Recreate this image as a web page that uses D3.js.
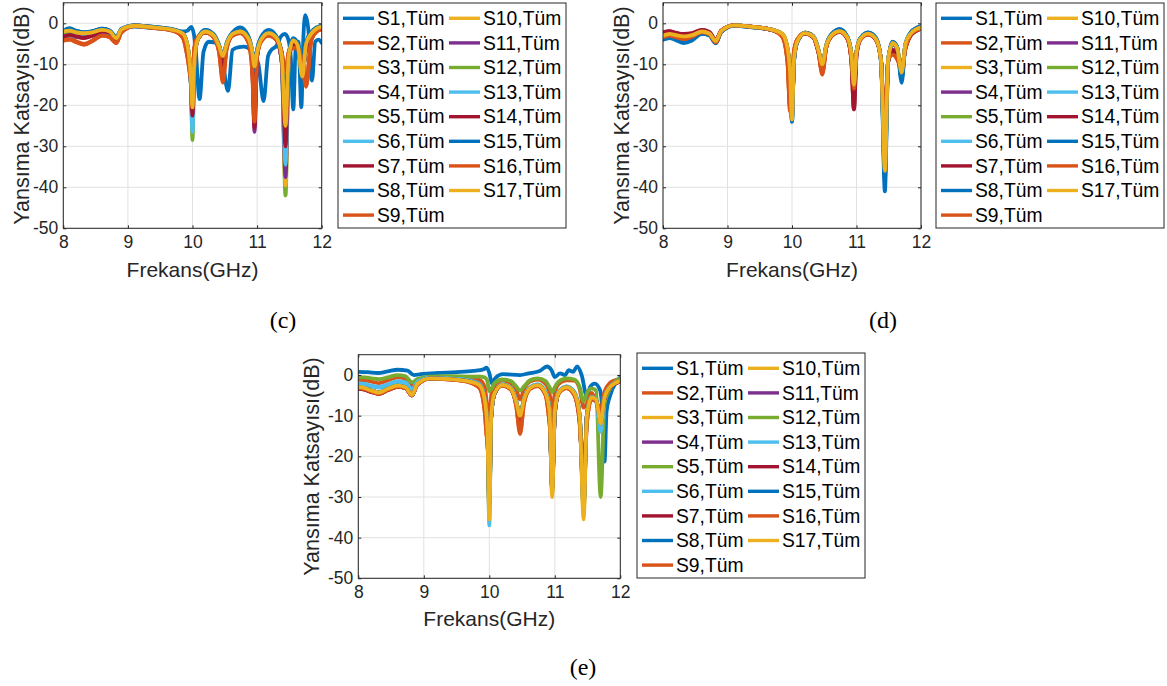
<!DOCTYPE html>
<html><head><meta charset="utf-8">
<script src="https://cdn.jsdelivr.net/npm/d3@7"></script>
<style>body{margin:0;background:#fff} svg{display:block}</style>
</head><body><svg id="fig" width="1167" height="686"></svg>
<script>
// ---------------- DATA ----------------
const labels = ["S1,Tüm","S2,Tüm","S3,Tüm","S4,Tüm","S5,Tüm","S6,Tüm","S7,Tüm","S8,Tüm","S9,Tüm",
  "S10,Tüm","S11,Tüm","S12,Tüm","S13,Tüm","S14,Tüm","S15,Tüm","S16,Tüm","S17,Tüm"];
const palette = ["#0072BD","#D95319","#EDB120","#7E2F8E","#77AC30","#4DBEEE","#A2142F"];
const xTicks = [8, 9, 10, 11, 12];
const yTicks = [-50, -40, -30, -20, -10, 0];
const panelTags = ["(c)", "(d)", "(e)"];

// shared frequency grid (GHz)
const freq = [8.0,8.1,8.2,8.32,8.45,8.6,8.72,8.82,8.9,9.1,9.4,9.7,9.85,9.93,9.97,10.0,10.03,10.08,10.2,10.33,
  10.41,10.47,10.53,10.62,10.74,10.86,10.92,10.96,11.0,11.06,11.18,11.3,11.38,11.44,11.49,11.56,11.63,11.7,11.76,11.84,11.92,12.0];

// panel (c): S1 has its own frequency grid
const freqC_S1 = [8.0,8.1,8.2,8.32,8.45,8.6,8.72,8.82,8.9,9.1,9.4,9.7,9.85,9.92,9.98,10.04,10.11,10.17,10.25,10.35,
  10.45,10.55,10.62,10.72,10.8,10.9,11.02,11.1,11.17,11.22,11.3,11.37,11.43,11.48,11.52,11.56,11.6,11.64,11.685,11.715,
  11.745,11.79,11.85,11.9,11.95,12.0];
const dbC = [
  [-1.8,-1.2,-1.8,-2.2,-2.0,-1.3,-1.8,-3.3,-1.5,-0.8,-1.2,-1.6,-2.0,-1.8,-0.9,-4.5,-18.5,-7,-4.5,-4.7,-7.5,-16.5,-6.5,-5.8,-5.7,-6.5,-10,-19,-8,-6.5,-5.5,-3.2,-2.6,-3.8,-8,-21,-5,-4.5,-20.5,-4,2,-1,-14,-4.5,-4,-4.8],
  [-4.0,-3.8,-4.4,-5.0,-4.2,-2.9,-3.3,-4.7,-2.1,-0.7,-1.1,-1.8,-3.4,-8,-13,-14,-6,-3.5,-2.2,-3.4,-6.5,-12,-6,-2.9,-2.3,-4.2,-9,-18,-8,-4.4,-2.8,-4,-7,-14,-7,-5.5,-6,-9,-14,-4,-2,-1.4],
  [-2.4,-2.1,-2.6,-2.9,-2.5,-1.8,-2.2,-3.9,-1.7,-0.6,-1.0,-1.6,-2.7,-6,-12,-21,-9,-4,-2.0,-3,-5.5,-8.5,-5,-2.6,-2.0,-3.6,-7,-14,-7,-4,-2.5,-3.6,-8.5,-24,-8,-4.3,-5.6,-12,-5,-2.5,-1.3,-0.8],
  [-3.0,-2.7,-3.1,-3.4,-2.9,-2.0,-2.4,-4.1,-1.8,-0.6,-1.0,-1.7,-2.9,-7,-13,-22,-9,-4,-2.1,-3.1,-6,-9.5,-5.5,-2.7,-2.1,-3.8,-8,-20,-7.5,-4.1,-2.6,-3.8,-9,-26,-8.5,-4.5,-5.8,-12,-5.2,-2.6,-1.4,-0.9],
  [-2.8,-2.6,-3.0,-3.3,-2.8,-1.9,-2.3,-4.0,-1.7,-0.6,-1.0,-1.7,-2.8,-7,-13,-24,-9,-4,-2.1,-3.1,-5.8,-9,-5.3,-2.7,-2.1,-3.7,-7.5,-16,-7.5,-4.1,-2.6,-3.7,-9,-42,-9,-4.4,-5.7,-12,-5.2,-2.6,-1.4,-0.9],
  [-3.1,-2.9,-3.2,-3.3,-2.9,-2.0,-2.4,-4.0,-1.8,-0.6,-1.0,-1.7,-2.8,-7,-13,-23,-9,-4,-2.1,-3.1,-5.8,-9,-5.3,-2.7,-2.1,-3.7,-7.5,-17,-7.5,-4.1,-2.6,-3.7,-9,-30,-9,-4.4,-5.7,-12.5,-5.2,-2.6,-1.4,-0.9],
  [-3.3,-2.9,-3.3,-3.6,-3.0,-2.0,-2.4,-4.2,-1.8,-0.6,-1.0,-1.7,-2.9,-7,-13,-21,-9,-4,-2.2,-3.2,-6,-9.5,-5.5,-2.8,-2.2,-3.9,-8,-22,-8,-4.2,-2.8,-4,-9,-27,-9,-4.8,-6,-12,-5.8,-2.9,-1.5,-1.0],
  [-1.9,-1.6,-2.0,-2.3,-2.0,-1.4,-1.9,-3.5,-1.4,-0.5,-0.9,-1.5,-2.4,-6,-12,-19,-8.5,-3.8,-1.7,-2.8,-5.3,-8,-4.8,-2.3,-1.4,-3.2,-6.5,-12,-6.5,-3.6,-1.9,-3.3,-7.5,-20,-7.5,-3.8,-5.2,-11.5,-4.7,-2.2,-1.1,-0.7],
  [-4.2,-4.0,-4.6,-5.2,-4.3,-3.0,-3.4,-4.8,-2.2,-0.7,-1.1,-1.8,-3.5,-9,-13,-15,-6,-3.5,-2.2,-3.5,-7,-13.5,-6,-3,-2.4,-4.4,-10,-22,-8,-4.5,-3,-4,-7,-13,-7,-6,-6,-10,-15,-4,-2,-1.5],
  [-2.3,-2.0,-2.4,-2.7,-2.4,-1.7,-2.1,-3.7,-1.6,-0.6,-1.0,-1.6,-2.6,-6,-12,-22,-9,-4,-2.0,-3,-5.5,-8.5,-5,-2.6,-2.0,-3.5,-7,-13,-7,-4,-2.4,-3.5,-8,-39.5,-8,-4.2,-5.5,-12,-5,-2.5,-1.3,-0.8],
  [-3.0,-2.7,-3.1,-3.4,-2.9,-2.0,-2.4,-4.1,-1.8,-0.6,-1.0,-1.7,-2.9,-7,-13,-24,-9,-4,-2.1,-3.1,-6,-9.5,-5.5,-2.7,-2.1,-3.8,-8,-26.5,-8,-4.1,-2.6,-3.8,-9,-37.5,-8.5,-4.5,-5.8,-12,-5.2,-2.6,-1.4,-0.9],
  [-2.7,-2.5,-2.9,-3.2,-2.7,-1.9,-2.3,-3.9,-1.7,-0.6,-1.0,-1.6,-2.8,-7,-13,-28.5,-9.5,-4,-2.1,-3.1,-5.8,-9,-5.3,-2.7,-2.1,-3.7,-7.5,-18,-7.5,-4.1,-2.6,-3.7,-9,-28,-9,-4.4,-5.7,-12,-5.2,-2.6,-1.4,-0.9],
  [-3.1,-2.9,-3.2,-3.2,-2.9,-2.0,-2.4,-4.0,-1.8,-0.6,-1.0,-1.7,-2.8,-7,-13,-26.5,-9,-4,-2.1,-3.1,-5.8,-9,-5.3,-2.7,-2.1,-3.7,-7.5,-20,-7.5,-4.1,-2.6,-3.7,-9,-34.5,-9,-4.4,-5.7,-12.5,-5.2,-2.6,-1.4,-0.9],
  [-3.2,-2.8,-3.2,-3.5,-3.0,-2.0,-2.3,-4.2,-1.8,-0.6,-1.0,-1.7,-3,-7,-13,-22.5,-9,-4,-2.2,-3.2,-6,-10,-5.5,-2.8,-2.2,-4,-8,-25.5,-8,-4.2,-2.8,-4,-9,-30,-9,-5,-6,-12,-6,-3,-1.5,-1.0],
  [-1.8,-1.5,-1.9,-2.2,-1.9,-1.3,-1.8,-3.4,-1.3,-0.5,-0.9,-1.5,-2.4,-6,-12,-19,-8.5,-3.7,-1.6,-2.7,-5.2,-8,-4.7,-2.2,-1.0,-3.0,-6.5,-11.5,-6.5,-3.4,-1.6,-3.2,-7.5,-20,-7.5,-3.6,-5,-11.5,-4.6,-2.1,-1.0,-0.6],
  [-4.2,-4.0,-4.6,-5.2,-4.3,-3.0,-3.4,-4.8,-2.2,-0.7,-1.1,-1.8,-3.5,-9,-13,-12,-6,-3.5,-2.2,-3.5,-7,-14.5,-6,-3,-2.4,-4.5,-11,-24,-8,-4.5,-3,-4,-7,-12,-7,-6,-6,-10,-15.5,-4,-2,-1.5],
  [-2.0,-1.8,-2.2,-2.4,-2.2,-1.6,-2.0,-3.6,-1.5,-0.6,-1.0,-1.6,-2.5,-6,-12,-20.5,-9,-4,-2.0,-3,-5.5,-8,-5,-2.6,-2.0,-3.5,-6.5,-10.5,-7,-4,-2.4,-3.5,-8,-25,-8,-4.2,-5.5,-13,-5,-2.5,-1.3,-0.8]
];

// panel (d)
const dbD = [
  [-3.8,-3.4,-3.9,-4.6,-4.0,-2.5,-2.9,-4.8,-2.1,-0.6,-1.0,-1.7,-2.8,-6.5,-12.5,-24,-9.5,-4.6,-2.3,-3.2,-6.5,-10.5,-5.5,-2.6,-1.5,-3.4,-7.5,-15,-7,-3.7,-2.3,-3.6,-9,-38,-9.5,-4.6,-5.8,-13,-5.1,-2.3,-1.3,-0.8],
  [-3.4,-3.0,-3.4,-3.8,-3.3,-2.2,-2.7,-4.7,-2.0,-0.5,-0.9,-1.7,-3.2,-9,-20,-18,-7,-4,-2.4,-3.3,-7,-12,-6,-2.9,-2.0,-3.7,-8.5,-16,-7,-3.9,-2.7,-3.9,-9,-30,-9,-7,-8.5,-11,-6,-2.8,-1.8,-1.2],
  [-3.1,-2.7,-3.0,-3.3,-3.0,-2.0,-2.5,-4.4,-1.9,-0.5,-0.9,-1.6,-2.6,-6,-12,-23,-9,-4.5,-2.4,-3.2,-6.5,-10,-5.5,-2.8,-1.9,-3.5,-7.5,-15.5,-7,-3.8,-2.5,-3.8,-9,-35,-9,-4.8,-6,-12,-5,-2.5,-1.5,-1.0],
  [-2.8,-2.4,-2.8,-3.1,-2.8,-1.9,-2.4,-4.3,-1.9,-0.5,-0.9,-1.6,-2.7,-6.5,-12.5,-23,-9,-4.5,-2.4,-3.3,-6.8,-10.5,-5.6,-2.8,-1.9,-3.6,-8,-18,-7.2,-3.8,-2.5,-3.8,-9,-33,-9,-5,-6.5,-11.5,-5.2,-2.6,-1.6,-1.1],
  [-3.2,-2.8,-3.1,-3.4,-3.1,-2.1,-2.6,-4.4,-1.9,-0.5,-0.9,-1.6,-2.6,-6,-12,-23,-9,-4.5,-2.4,-3.2,-6.5,-10.5,-5.5,-2.8,-1.9,-3.5,-7.5,-16,-7,-3.8,-2.5,-3.8,-9,-34,-9,-4.8,-6,-12.5,-5,-2.5,-1.5,-1.0],
  [-3.3,-2.9,-3.3,-3.6,-3.2,-2.1,-2.6,-4.5,-2.0,-0.5,-0.9,-1.6,-2.7,-6.5,-12.5,-23,-9,-4.5,-2.4,-3.2,-6.5,-10.5,-5.5,-2.7,-1.8,-3.5,-7.5,-16,-7,-3.7,-2.4,-3.7,-9.5,-33,-9,-4.7,-6,-13,-5,-2.4,-1.4,-0.9],
  [-2.3,-2.0,-2.4,-2.7,-2.5,-1.7,-2.2,-4.2,-1.8,-0.5,-0.9,-1.7,-2.8,-7,-13,-22.5,-9,-4.6,-2.5,-3.4,-7,-11,-5.8,-3.0,-2.1,-3.8,-9,-21,-8,-4.0,-2.7,-4.0,-9,-32,-9.5,-6.5,-7.5,-11,-5.8,-2.9,-1.8,-1.2],
  [-3.6,-3.2,-3.7,-4.3,-3.8,-2.4,-2.8,-4.7,-2.0,-0.5,-0.9,-1.6,-2.7,-6.5,-12.5,-23.5,-9.2,-4.5,-2.3,-3.1,-6.4,-10.3,-5.4,-2.6,-1.5,-3.4,-7.4,-15,-6.9,-3.7,-2.3,-3.6,-9,-37,-9.3,-4.6,-5.8,-13.5,-5.1,-2.3,-1.3,-0.8],
  [-3.5,-3.1,-3.5,-3.9,-3.4,-2.3,-2.8,-4.8,-2.1,-0.5,-0.9,-1.7,-3.3,-9.5,-21,-17,-7,-4,-2.4,-3.4,-7.2,-12.5,-6,-2.9,-2.0,-3.8,-8.8,-16.5,-7,-3.9,-2.7,-3.9,-9,-28,-9,-7.5,-8.8,-11,-6.2,-2.9,-1.9,-1.3],
  [-3.0,-2.6,-3.0,-3.3,-3.0,-2.0,-2.5,-4.3,-1.9,-0.5,-0.9,-1.6,-2.6,-6,-12,-23.2,-9,-4.5,-2.4,-3.2,-6.5,-10,-5.5,-2.8,-1.9,-3.5,-7.5,-15.2,-7,-3.8,-2.5,-3.8,-9,-35.5,-9,-4.8,-6,-12,-5,-2.5,-1.5,-1.0],
  [-2.9,-2.5,-2.9,-3.2,-2.9,-1.9,-2.4,-4.3,-1.9,-0.5,-0.9,-1.6,-2.7,-6.5,-12.5,-22.8,-9,-4.5,-2.4,-3.3,-6.8,-10.5,-5.6,-2.8,-1.9,-3.6,-8,-17.5,-7.2,-3.8,-2.5,-3.8,-9,-33.5,-9,-5,-6.4,-11.5,-5.2,-2.6,-1.6,-1.1],
  [-3.2,-2.8,-3.1,-3.4,-3.1,-2.1,-2.6,-4.4,-1.9,-0.5,-0.9,-1.6,-2.6,-6,-12,-23,-9,-4.5,-2.4,-3.2,-6.5,-10.4,-5.5,-2.8,-1.9,-3.5,-7.5,-15.8,-7,-3.8,-2.5,-3.8,-9,-34,-9,-4.8,-6,-12.4,-5,-2.5,-1.5,-1.0],
  [-3.3,-2.9,-3.3,-3.6,-3.2,-2.1,-2.6,-4.5,-2.0,-0.5,-0.9,-1.6,-2.7,-6.5,-12.5,-23,-9,-4.5,-2.4,-3.2,-6.5,-10.5,-5.5,-2.7,-1.8,-3.5,-7.5,-16,-7,-3.7,-2.4,-3.7,-9.5,-33,-9,-4.7,-6,-13,-5,-2.4,-1.4,-0.9],
  [-2.2,-1.9,-2.3,-2.6,-2.4,-1.6,-2.1,-4.1,-1.8,-0.5,-0.9,-1.7,-2.8,-7,-13,-22,-9,-4.6,-2.5,-3.4,-7,-11,-5.8,-3.0,-2.1,-3.8,-9,-21,-8,-4.0,-2.7,-4.0,-9,-30,-9.5,-7,-8,-11,-6,-3,-1.9,-1.3],
  [-4.0,-3.6,-4.1,-4.8,-4.2,-2.6,-3.0,-4.9,-2.2,-0.6,-1.0,-1.7,-2.8,-6.5,-12.5,-24,-9.5,-4.6,-2.3,-3.2,-6.5,-10.5,-5.5,-2.5,-1.4,-3.3,-7.5,-15,-7,-3.6,-2.2,-3.5,-9,-41,-9.5,-4.5,-5.8,-14.5,-5.1,-2.2,-1.2,-0.7],
  [-3.4,-3.0,-3.4,-3.8,-3.3,-2.2,-2.7,-4.7,-2.0,-0.5,-0.9,-1.7,-3.3,-9.5,-21.5,-17,-7,-4,-2.4,-3.3,-7,-12,-6,-2.9,-2.0,-3.7,-8.5,-16,-7,-3.9,-2.7,-3.9,-9,-26,-9,-7.7,-8.5,-11,-6,-2.8,-1.8,-1.2],
  [-3.0,-2.6,-2.9,-3.2,-2.9,-2.0,-2.5,-4.3,-1.9,-0.5,-0.9,-1.6,-2.6,-6,-12,-23.5,-9,-4.5,-2.4,-3.2,-6.5,-10,-5.5,-2.8,-1.9,-3.5,-7.5,-15,-7,-3.8,-2.5,-3.8,-9,-36,-9,-4.8,-6,-12,-5,-2.5,-1.5,-1.0]
];

// panel (e): S1 has its own frequency grid
const freqE_S1 = [8.0,8.15,8.3,8.45,8.6,8.75,8.85,8.95,9.2,9.5,9.76,9.91,9.96,10.0,10.04,10.09,10.21,10.47,10.6,10.77,
  10.88,10.95,11.0,11.08,11.16,11.21,11.28,11.34,11.41,11.49,11.54,11.61,11.69,11.73,11.76,11.79,11.84,11.94,12.0];
const dbE = [
  [0.8,0.7,0.5,0.9,1.3,1.1,0.0,0.2,0.5,0.7,1.0,1.4,1.8,0.5,-2.1,-0.8,0.2,0.0,0.4,1.0,2.1,1.2,-0.5,0.4,0.0,1.2,0.8,2.1,0.0,-5.3,-2.9,-2.1,-3.7,-10,-21.3,-9,-5.3,-1.6,-0.5],
  [-1.2,-1.3,-1.6,-2.0,-1.3,-0.6,-0.9,-2.6,-1.4,-0.6,-0.6,-0.8,-1.2,-3,-8,-12,-5,-2.6,-1.4,-2.0,-3.5,-6,-3.5,-1.6,-1.1,-2.2,-4.5,-9,-4.5,-2.2,-1.3,-1.4,-3.5,-8,-7,-4.4,-6.3,-8.5,-4,-2,-1.3,-1.0],
  [-3.0,-3.1,-3.7,-4.2,-3.3,-2.5,-2.9,-4.8,-2.2,-0.8,-1.0,-1.6,-2.5,-6,-13,-30,-10,-4.5,-2.4,-3.3,-6.5,-10,-6,-3.2,-2.5,-4.5,-9,-25,-9,-4.3,-3.0,-4.5,-10,-30,-10,-5.5,-6,-12,-5.5,-3,-2,-1.4],
  [-3.3,-3.4,-4.0,-4.5,-3.6,-2.8,-3.1,-5.0,-2.3,-0.8,-1.0,-1.6,-2.6,-7,-14,-28,-10,-4.6,-2.5,-3.4,-6.8,-11,-6.2,-3.3,-2.6,-4.7,-10,-26,-9.5,-4.4,-3.1,-4.7,-11,-28,-10,-5.8,-6.2,-11,-5.6,-3.1,-2.1,-1.5],
  [-0.5,-0.6,-0.8,-1.0,-0.6,0.0,-0.3,-1.8,-1.0,-0.4,-0.3,-0.4,-0.4,-0.6,-1.5,-4,-3.5,-2,-1.1,-1.5,-2.8,-3.8,-2.8,-1.3,-0.8,-1.5,-3,-4.2,-3,-1.6,-0.8,-1.1,-3,-6.5,-4.5,-3.3,-3.8,-30,-7,-3.5,-1.6,-0.8],
  [-2.2,-2.4,-2.8,-3.1,-2.5,-1.7,-2.0,-3.8,-1.8,-0.7,-0.9,-1.4,-2.2,-6,-13,-33,-10,-4.4,-2.3,-3.2,-6.2,-10,-5.8,-3.0,-2.3,-4.2,-8.5,-27,-8.5,-4.1,-2.8,-4.2,-10,-30,-10,-5.4,-5.9,-13,-5.4,-2.9,-1.9,-1.4],
  [-3.4,-3.6,-4.2,-4.6,-3.7,-2.9,-3.2,-5.0,-2.3,-0.8,-1.0,-1.6,-2.7,-7,-14,-30,-10,-4.6,-2.5,-3.4,-6.8,-11,-6.2,-3.3,-2.6,-4.7,-10,-28,-9.5,-4.4,-3.1,-4.7,-11,-30,-10,-5.8,-6.2,-11.5,-5.6,-3.1,-2.1,-1.5],
  [-3.1,-3.2,-3.8,-4.3,-3.4,-2.6,-3.0,-4.9,-2.2,-0.8,-1.0,-1.6,-2.5,-6,-13,-32,-10,-4.5,-2.4,-3.3,-6.5,-10,-6,-3.2,-2.5,-4.5,-9,-28,-9,-4.3,-3.0,-4.5,-10,-32,-10,-5.5,-6,-12,-5.5,-3,-2,-1.4],
  [-3.3,-3.5,-4.1,-4.6,-3.7,-2.9,-3.2,-5.0,-2.4,-0.9,-1.1,-1.8,-3.2,-9,-16,-14,-7,-4,-2.6,-3.6,-7.5,-14,-7,-3.4,-2.7,-5,-12,-19,-8,-4.5,-3.2,-5,-12,-27,-12,-6,-6.5,-10,-5.5,-3,-2,-1.5],
  [-3.0,-3.2,-3.8,-4.3,-3.4,-2.6,-3.0,-4.9,-2.2,-0.8,-1.0,-1.6,-2.5,-6,-13,-34,-10,-4.5,-2.4,-3.3,-6.5,-10,-6,-3.2,-2.5,-4.5,-9,-29,-9,-4.3,-3.0,-4.5,-10,-34,-10,-5.5,-6,-12,-5.5,-3,-2,-1.5],
  [-3.3,-3.4,-4.0,-4.5,-3.6,-2.8,-3.1,-5.0,-2.3,-0.8,-1.0,-1.6,-2.6,-7,-14,-29,-10,-4.6,-2.5,-3.4,-6.8,-11,-6.2,-3.3,-2.6,-4.7,-10,-27,-9.5,-4.4,-3.1,-4.7,-11,-29,-10,-5.8,-6.2,-11,-5.6,-3.1,-2.1,-1.5],
  [-3.0,-3.2,-3.8,-4.3,-3.4,-2.6,-3.0,-4.9,-2.2,-0.8,-1.0,-1.6,-2.5,-6,-13,-33,-10,-4.5,-2.4,-3.3,-6.5,-10,-6,-3.2,-2.5,-4.5,-9,-29,-9,-4.3,-3.0,-4.5,-10,-33,-10,-5.5,-6,-12,-5.5,-3,-2,-1.4],
  [-2.0,-2.2,-2.6,-2.9,-2.3,-1.5,-1.8,-3.5,-1.7,-0.7,-0.9,-1.4,-2.2,-6,-13,-37,-10,-4.4,-2.3,-3.2,-6.2,-10,-5.8,-3.0,-2.3,-4.2,-8.5,-28,-8.5,-4.1,-2.8,-4.2,-10,-33,-10,-5.4,-6.5,-14,-5.4,-2.9,-1.9,-1.4],
  [-3.4,-3.6,-4.2,-4.6,-3.7,-2.9,-3.2,-5.0,-2.3,-0.8,-1.0,-1.6,-2.7,-7,-14,-31,-10,-4.6,-2.5,-3.4,-6.8,-11,-6.2,-3.3,-2.6,-4.7,-10,-28,-9.5,-4.4,-3.1,-4.7,-11,-31,-10,-5.8,-6.2,-11.5,-5.6,-3.1,-2.1,-1.5],
  [-3.1,-3.2,-3.8,-4.3,-3.4,-2.6,-3.0,-4.9,-2.2,-0.8,-1.0,-1.6,-2.5,-6,-13,-32,-10,-4.5,-2.4,-3.3,-6.5,-10,-6,-3.2,-2.5,-4.5,-9,-28,-9,-4.3,-3.0,-4.5,-10,-32,-10,-5.5,-6,-12,-5.5,-3,-2,-1.4],
  [-3.3,-3.5,-4.1,-4.6,-3.7,-2.9,-3.2,-5.0,-2.4,-0.9,-1.1,-1.8,-3.2,-9,-16,-14,-7,-4,-2.6,-3.6,-7.5,-14.5,-7,-3.4,-2.7,-5,-12,-19,-8,-4.5,-3.2,-5,-12,-27,-12,-6,-6.5,-10,-5.5,-3,-2,-1.5],
  [-3.0,-3.2,-3.8,-4.3,-3.4,-2.6,-3.0,-4.9,-2.2,-0.8,-1.0,-1.6,-2.5,-6,-13,-35.5,-10,-4.5,-2.4,-3.3,-6.5,-10,-6,-3.2,-2.5,-4.5,-9,-30,-9,-4.3,-3.0,-4.5,-10,-35.5,-10,-5.5,-6,-12,-5.5,-3,-2,-1.4]
];

// ---------------- LAYOUT ----------------
const panels = [
  {tag: panelTags[0], db: dbC, f1: freqC_S1, x0: 63.3, x1: 321.7, y0: 2.8, y1: 228.3,
   leg: {x: 338, y: 3, w: 228, h: 225}, tagPos: [283, 320], ylabX: 21, xlabY: 270},
  {tag: panelTags[1], db: dbD, f1: freq, x0: 663, x1: 921, y0: 2.8, y1: 228.3,
   leg: {x: 936, y: 3, w: 228, h: 225}, tagPos: [883, 320], ylabX: 621, xlabY: 270},
  {tag: panelTags[2], db: dbE, f1: freqE_S1, x0: 358.3, x1: 620.3, y0: 354.7, y1: 578.3,
   leg: {x: 637, y: 353, w: 228, h: 225}, tagPos: [583, 667], ylabX: 311, xlabY: 619}
];

const FONT = '"Liberation Sans", Arial, Helvetica, sans-serif';
const TXT = '#262626';
const svg = d3.select('#fig');

panels.forEach((p, pi) => {
  const g = svg.append('g');
  const x = d3.scaleLinear().domain([8, 12]).range([p.x0, p.x1]);
  const y = d3.scaleLinear().domain([-50, 5]).range([p.y1, p.y0]);

  // grid
  g.append('g').selectAll('line').data(xTicks).join('line')
    .attr('x1', d => x(d)).attr('x2', d => x(d)).attr('y1', p.y0).attr('y2', p.y1)
    .attr('stroke', '#e1e1e1').attr('stroke-width', 1);
  g.append('g').selectAll('line').data(yTicks).join('line')
    .attr('y1', d => y(d)).attr('y2', d => y(d)).attr('x1', p.x0).attr('x2', p.x1)
    .attr('stroke', '#e1e1e1').attr('stroke-width', 1);

  // clip
  const cid = 'clip' + pi;
  svg.append('clipPath').attr('id', cid).append('rect')
    .attr('x', p.x0).attr('y', p.y0).attr('width', p.x1 - p.x0).attr('height', p.y1 - p.y0);

  const line = d3.line().x(d => x(d[0])).y(d => y(d[1])).curve(d3.curveMonotoneX);
  const lg = g.append('g').attr('clip-path', `url(#${cid})`);
  p.db.forEach((vals, i) => {
    const fr = i === 0 ? p.f1 : freq;
    const pts = fr.map((f, j) => [f, vals[j]]);
    lg.append('path').attr('d', line(pts)).attr('fill', 'none')
      .attr('stroke', palette[i % 7]).attr('stroke-width', 3.8)
      .attr('stroke-linejoin', 'round').attr('stroke-linecap', 'round');
  });

  // axes
  const fmt = d => String(d);
  const ax = g.append('g').attr('transform', `translate(0,${p.y1})`)
    .call(d3.axisBottom(x).tickValues(xTicks).tickFormat(fmt).tickSizeInner(-3).tickSizeOuter(0).tickPadding(7));
  const ay = g.append('g').attr('transform', `translate(${p.x0},0)`)
    .call(d3.axisLeft(y).tickValues(yTicks).tickFormat(fmt).tickSizeInner(-3).tickSizeOuter(0).tickPadding(5));
  const at = g.append('g').attr('transform', `translate(0,${p.y0})`)
    .call(d3.axisTop(x).tickValues(xTicks).tickFormat('').tickSizeInner(-3).tickSizeOuter(0));
  const ar = g.append('g').attr('transform', `translate(${p.x1},0)`)
    .call(d3.axisRight(y).tickValues(yTicks).tickFormat('').tickSizeInner(-3).tickSizeOuter(0));
  [ax, ay, at, ar].forEach(a => {
    a.select('.domain').remove();
    a.selectAll('line').attr('stroke', TXT);
    a.selectAll('text').attr('fill', TXT).style('font-family', FONT).style('font-size', '17.5px');
  });
  g.append('rect').attr('x', p.x0).attr('y', p.y0).attr('width', p.x1 - p.x0).attr('height', p.y1 - p.y0)
    .attr('fill', 'none').attr('stroke', TXT).attr('stroke-width', 1);

  // axis labels
  g.append('text').attr('x', (p.x0 + p.x1) / 2).attr('y', p.xlabY).attr('dy', '0.35em')
    .attr('text-anchor', 'middle').attr('fill', TXT).style('font-family', FONT).style('font-size', '21px')
    .text('Frekans(GHz)');
  g.append('text').attr('transform', `translate(${p.ylabX},${(p.y0 + p.y1) / 2}) rotate(-90)`).attr('dy', '0.35em')
    .attr('text-anchor', 'middle').attr('fill', TXT).style('font-family', FONT).style('font-size', '21.5px')
    .text('Yansıma Katsayısı(dB)');

  // legend
  const L = p.leg;
  const lgd = g.append('g');
  lgd.append('rect').attr('x', L.x).attr('y', L.y).attr('width', L.w).attr('height', L.h)
    .attr('fill', '#fff').attr('stroke', TXT).attr('stroke-width', 1);
  labels.forEach((lab, i) => {
    const col = i < 9 ? 0 : 1;
    const row = i < 9 ? i : i - 9;
    const cy = L.y + 15.3 + row * 24.6;
    const lx = L.x + (col === 0 ? 5 : 111);
    lgd.append('line').attr('x1', lx).attr('x2', lx + 31).attr('y1', cy).attr('y2', cy)
      .attr('stroke', palette[i % 7]).attr('stroke-width', 3.4);
    lgd.append('text').attr('x', lx + 34).attr('y', cy).attr('dy', '0.35em')
      .attr('fill', '#000').style('font-family', FONT).style('font-size', '19.3px').text(lab);
  });

  // panel tag
  svg.append('text').attr('x', p.tagPos[0]).attr('y', p.tagPos[1]).attr('dy', '0.35em')
    .attr('text-anchor', 'middle').attr('fill', '#000')
    .style('font-family', '"Liberation Serif", "Times New Roman", serif').style('font-size', '24px')
    .text(p.tag);
});
</script></body></html>
